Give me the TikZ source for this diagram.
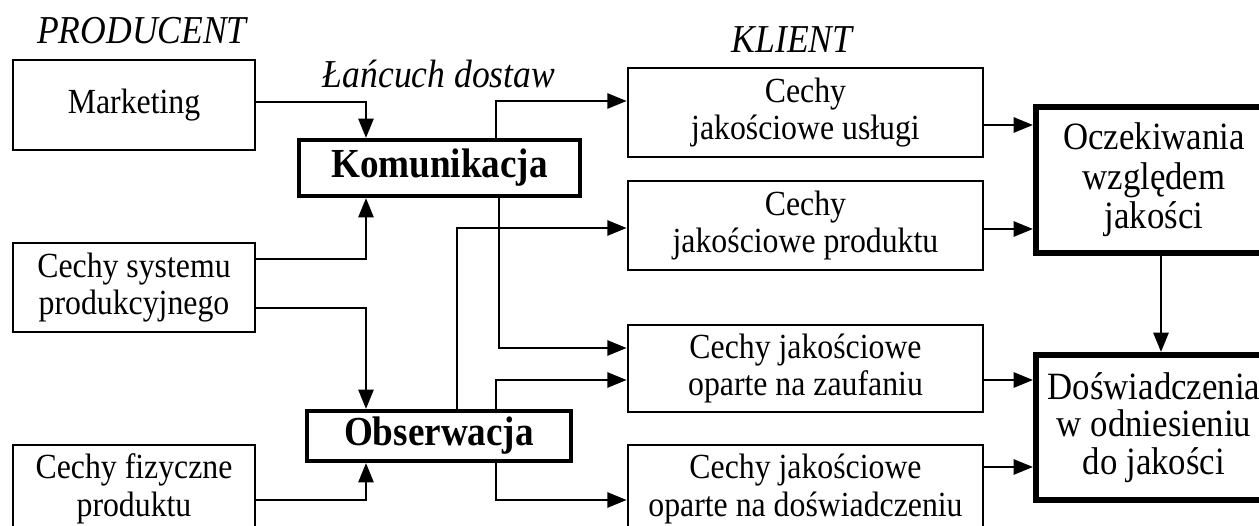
\documentclass[tikz,border=0pt]{standalone}
\usepackage{fontspec}
\setmainfont{Liberation Serif}[FakeStretch=0.9]
\usetikzlibrary{arrows.meta}

\begin{document}
\begin{tikzpicture}[x=0.02cm,y=-0.02cm]
        \useasboundingbox (0,0) rectangle (1259,526);
        \begin{scope}[every node/.style={font=\fontsize{22.5}{26}\selectfont\itshape}]
                \node (Producent) at (142,31) {PRODUCENT};
                \node (Klient) at (792,40) {KLIENT};
                \node (Lancuch) at (439,74) {Łańcuch dostaw};
        \end{scope}
        \begin{scope}[every node/.style={draw,line width=1.5pt,align=center,inner sep=0pt,font=\fontsize{20.1}{21.5}\selectfont}]
                \node[minimum width=4.84cm,minimum height=1.8cm] (Mark) at (134,105) {Marketing};
                \node[minimum width=4.84cm,minimum height=1.78cm] (Syst) at (134,287.5) {Cechy systemu\\produkcyjnego};
                \node[minimum width=4.84cm,minimum height=1.76cm] (Fiz) at (134,489) {Cechy fizyczne\\produktu};
                \node[minimum width=7.1cm,minimum height=1.78cm] (Usl) at (805.5,112.5) {Cechy\\jakościowe usługi};
                \node[minimum width=7.1cm,minimum height=1.78cm] (Prod) at (805.5,225.5) {Cechy\\jakościowe produktu};
                \node[minimum width=7.1cm,minimum height=1.74cm] (Zauf) at (805.5,368.5) {Cechy jakościowe\\oparte na zaufaniu};
                \node[minimum width=7.1cm,minimum height=1.76cm] (Dosw) at (805.5,489) {Cechy jakościowe\\oparte na doświadczeniu};
                \node[line width=2.3pt,minimum width=5.62cm,minimum height=1.12cm,font=\fontsize{23.5}{26}\selectfont\bfseries] (Kom) at (439.5,168) {Komunikacja};
                \node[line width=2.3pt,minimum width=5.28cm,minimum height=1cm,font=\fontsize{23.5}{26}\selectfont\bfseries] (Obs) at (439,436) {Obserwacja};
                \node[line width=3.4pt,minimum width=4.72cm,minimum height=2.92cm,font=\fontsize{22}{22.5}\selectfont] (Ocz) at (1154,180) {Oczekiwania\\względem\\jakości};
                \node[line width=3.4pt,minimum width=4.72cm,minimum height=2.9cm,font=\fontsize{22}{21.5}\selectfont] (Dosw2) at (1154,427.5) {Doświadczenia\\w odniesieniu\\do jakości};
        \end{scope}
        \coordinate (markIn) at (366,102);
        \coordinate (systUp) at (366,259);
        \coordinate (systDown) at (366,308);
        \coordinate (fizIn) at (366,500);
        \coordinate (komUp) at (496,101);
        \coordinate (komDown) at (499,348);
        \coordinate (obsProd) at (457,228);
        \coordinate (obsZauf) at (496,380);
        \coordinate (obsDosw) at (496,500);
        \coordinate (uslOut) at (983,125);
        \coordinate (prodOut) at (983,229);
        \coordinate (zaufOut) at (983,380);
        \coordinate (doswOut) at (983,467);
        \coordinate (oczDown) at (1161,253);
        \begin{scope}[every path/.style={line width=1.6pt,-{Triangle[length=11pt,width=8.5pt]}}]
                \draw (Mark.east |- markIn) -| (Kom.north -| markIn);
                \draw (Syst.east |- systUp) -| (Kom.south -| systUp);
                \draw (Syst.east |- systDown) -| (Obs.north -| systDown);
                \draw (Fiz.east |- fizIn) -| (Obs.south -| fizIn);
                \draw (Kom.north -| komUp) |- (Usl.west |- komUp);
                \draw (Kom.south -| komDown) |- (Zauf.west |- komDown);
                \draw (Obs.north -| obsProd) |- (Prod.west |- obsProd);
                \draw (Obs.north -| obsZauf) |- (Zauf.west |- obsZauf);
                \draw (Obs.south -| obsDosw) |- (Dosw.west |- obsDosw);
                \draw (Usl.east |- uslOut) -- (Ocz.west |- uslOut);
                \draw (Prod.east |- prodOut) -- (Ocz.west |- prodOut);
                \draw (Zauf.east |- zaufOut) -- (Dosw2.west |- zaufOut);
                \draw (Dosw.east |- doswOut) -- (Dosw2.west |- doswOut);
                \draw (Ocz.south -| oczDown) -- (Dosw2.north -| oczDown);
        \end{scope}
\end{tikzpicture}
\end{document}
